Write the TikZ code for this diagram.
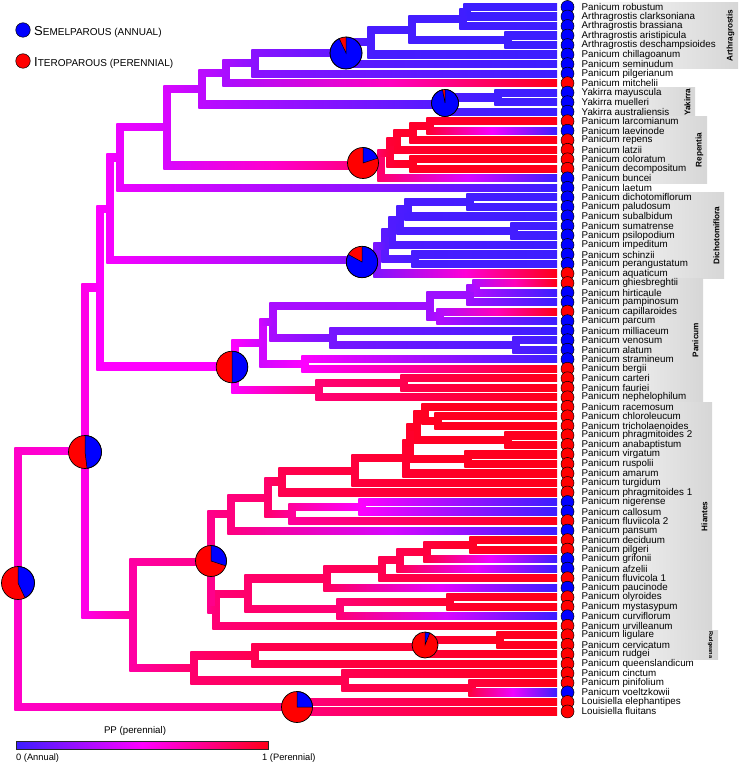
\documentclass[tikz,border=0pt]{standalone}
\usepackage{fontspec}
\setmainfont{Liberation Sans}
\usetikzlibrary{calc}

\definecolor{ppA}{RGB}{60,30,255}
\definecolor{ppM}{RGB}{255,0,255}
\definecolor{ppP}{RGB}{255,0,24}
\definecolor{stA}{RGB}{0,0,255}
\definecolor{stP}{RGB}{255,0,0}

% colour on the PP scale, value 0..100
\newcommand\ppcolor[2]{%
  \edef\ppv{\the\numexpr#2\relax}%
  \ifnum\ppv<50
    \edef\pptmp{\noexpand\colorlet{#1}{ppM!\the\numexpr\ppv*2\relax!ppA}}%
  \else
    \edef\pptmp{\noexpand\colorlet{#1}{ppP!\the\numexpr(\ppv-50)*2\relax!ppM}}%
  \fi
  \pptmp}

% elbow branch from parent to child
\newcommand\treebranch[2]{%
  \ppcolor{cpa}{\csname pv#1\endcsname}%
  \ppcolor{cch}{\csname pv#2\endcsname}%
  \ppcolor{cmi}{(\csname pv#1\endcsname+\csname pv#2\endcsname)/2}%
  \fill[cpa] let \p1=(#1), \p2=(#2) in (\x1-3.6pt,\y1) rectangle (\x1+3.6pt,\y2);
  \shade[left color=cpa, right color=cch, middle color=cmi] let \p1=(#1), \p2=(#2) in
    (\x1-3.6pt,\y2-3.6pt) rectangle (\x2,\y2+3.6pt);}

% inner node at x, halfway between its two children
\newcommand\clade[5]{%
  \path let \p1=($(#4)!.5!(#5)$) in (#2pt,\y1) coordinate (#1);
  \expandafter\xdef\csname pv#1\endcsname{#3}%
  \treebranch{#1}{#4}\treebranch{#1}{#5}}

% pie of the state probabilities (blue share in percent)
\newcommand\ppie[3]{%
  \begin{scope}[shift={(#1)}, x=1pt, y=1pt]
    \fill[stP] (0,0) circle (#2);
    \filldraw[fill=stA, draw=black, line width=0.5pt] (0,0) -- (90:#2)
      arc[start angle=90, delta angle=-3.6*#3, radius=#2] -- cycle;
    \draw[line width=0.7pt] (0,0) circle (#2);
  \end{scope}}

% grey band behind a clade
\newcommand\cladebox[5]{%
  \pgfmathsetmacro\bt{2.24+9.52*(#1-1)}%
  \pgfmathsetmacro\bb{11.76+9.52*(#2-1)}%
  \shade[left color=gray!2, right color=gray!32] (579,\bt) rectangle (#3,\bb);
  \node[cladename, #5] (cl#4) at (#3-7.5,{(\bt+\bb)/2}) {#4};}

\newcommand\taxa{Panicum robustum/0, Arthragrostis clarksoniana/0, Arthragrostis brassiana/0,
 Arthragrostis aristipicula/0, Arthragrostis deschampsioides/0, Panicum chillagoanum/0,
 Panicum seminudum/0, Panicum pilgerianum/0, Panicum mitchelii/100, Yakirra mayuscula/0,
 Yakirra muelleri/0, Yakirra australiensis/0, Panicum larcomianum/100, Panicum laevinode/0,
 Panicum repens/100, Panicum latzii/100, Panicum coloratum/100, Panicum decompositum/100,
 Panicum buncei/0, Panicum laetum/0, Panicum dichotomiflorum/0, Panicum paludosum/0,
 Panicum subalbidum/0, Panicum sumatrense/0, Panicum psilopodium/0, Panicum impeditum/0,
 Panicum schinzii/0, Panicum perangustatum/0, Panicum aquaticum/100, Panicum ghiesbreghtii/100,
 Panicum hirticaule/0, Panicum pampinosum/0, Panicum capillaroides/100, Panicum parcum/0,
 Panicum milliaceum/0, Panicum venosum/0, Panicum alatum/0, Panicum stramineum/0,
 Panicum bergii/100, Panicum carteri/100, Panicum fauriei/100, Panicum nephelophilum/100,
 Panicum racemosum/100, Panicum chloroleucum/100, Panicum tricholaenoides/100,
 Panicum phragmitoides 2/100, Panicum anabaptistum/100, Panicum virgatum/100,
 Panicum ruspolii/100, Panicum amarum/100, Panicum turgidum/100, Panicum phragmitoides 1/100,
 Panicum nigerense/0, Panicum callosum/0, Panicum fluviicola 2/100, Panicum pansum/0,
 Panicum deciduum/100, Panicum pilgeri/100, Panicum grifonii/0, Panicum afzelii/0,
 Panicum fluvicola 1/100, Panicum paucinode/0, Panicum olyroides/100, Panicum mystasypum/100,
 Panicum curviflorum/0, Panicum urvilleanum/100, Panicum ligulare/100, Panicum cervicatum/100,
 Panicum rudgei/100, Panicum queenslandicum/100, Panicum cinctum/100, Panicum pinifolium/100,
 Panicum voeltzkowii/0, Louisiella elephantipes/100, Louisiella fluitans/100}

\begin{document}
\begin{tikzpicture}[x=1pt, y=-1pt,
  every node/.style={font=\fontsize{9.8}{10}\selectfont},
  tipdot/.style={circle, draw=black, line width=0.5pt, minimum size=13pt, inner sep=0pt},
  taxon/.style={anchor=west, inner sep=0pt},
  cladename/.style={font=\bfseries\fontsize{8.2}{9}\selectfont, inner sep=0pt}]
\useasboundingbox (0,0) rectangle (740,767);

% tip ends
\foreach \lab/\st [count=\i] in \taxa {
  \pgfmathsetmacro\ty{7+9.52*(\i-1)}
  \coordinate (e\i) at (557,\ty);
  \expandafter\xdef\csname pve\i\endcsname{\st}
}

% Arthragrostis and Yakirra
\clade{a12}{467}{0}{e1}{e2}
\clade{a13}{463}{1}{a12}{e3}
\clade{a45}{508}{0}{e4}{e5}
\clade{a15}{412}{2}{a13}{a45}
\clade{a16}{371}{3}{a15}{e6}
\clade{a17}{352}{8}{a16}{e7}
\clade{a18}{255}{20}{a17}{e8}
\clade{a19}{226}{28}{a18}{e9}
\clade{y1}{498}{1}{e10}{e11}
\clade{y2}{452}{4}{y1}{e12}
\clade{a112}{202}{33}{a19}{y2}
% Repentia
\clade{r1}{430}{95}{e13}{e14}
\clade{r2}{413}{96}{r1}{e15}
\clade{r3}{397}{95}{r2}{e16}
\clade{r4}{413}{98}{e17}{e18}
\clade{r5}{390}{93}{r3}{r4}
\clade{r6}{381}{82}{r5}{e19}
\clade{nD}{167}{40}{a112}{r6}
\clade{nE}{120}{45}{nD}{e20}
% Dichotomiflora
\clade{d1}{470}{2}{e21}{e22}
\clade{d2}{408}{3}{d1}{e23}
\clade{d3}{514}{2}{e24}{e25}
\clade{d4}{400}{4}{d2}{d3}
\clade{d5}{392}{5}{d4}{e26}
\clade{d6}{415}{3}{e27}{e28}
\clade{d7}{385}{8}{d5}{d6}
\clade{d8}{377}{17}{d7}{e29}
\clade{nA}{110}{48}{nE}{d8}
% Panicum
\clade{q1}{476}{30}{e30}{e31}
\clade{q2}{470}{25}{q1}{e32}
\clade{q3}{440}{30}{e33}{e34}
\clade{q4}{430}{25}{q2}{q3}
\clade{q5}{516}{5}{e36}{e37}
\clade{q6}{333}{15}{e35}{q5}
\clade{q7}{273}{28}{q4}{q6}
\clade{q8}{305}{50}{e38}{e39}
\clade{q9}{263}{38}{q7}{q8}
\clade{q10}{404}{88}{e40}{e41}
\clade{q11}{319}{80}{q10}{e42}
\clade{q12}{235}{50}{q9}{q11}
\clade{nB}{100}{50}{nA}{q12}
% Hiantes
\clade{h1}{438}{98}{e44}{e45}
\clade{h2}{425}{98}{e43}{h1}
\clade{h3}{508}{98}{e46}{e47}
\clade{h4}{417}{97}{h2}{h3}
\clade{h5}{468}{98}{e48}{e49}
\clade{h6}{410}{96}{h4}{h5}
\clade{h7}{406}{95}{h6}{e50}
\clade{h8}{355}{92}{h7}{e51}
\clade{h9}{282}{88}{h8}{e52}
\clade{h10}{362}{50}{e53}{e54}
\clade{h11}{292}{72}{h10}{e55}
\clade{h12}{268}{82}{h9}{h11}
\clade{h13}{231}{78}{h12}{e56}
\clade{h14}{473}{97}{e57}{e58}
\clade{h15}{427}{92}{h14}{e59}
\clade{h16}{400}{88}{h15}{e60}
\clade{h17}{382}{88}{h16}{e61}
\clade{h18}{327}{85}{h17}{e62}
\clade{h19}{450}{95}{e63}{e64}
\clade{h20}{340}{80}{h19}{e65}
\clade{h21}{248}{82}{h18}{h20}
\clade{h22}{216}{80}{h21}{e66}
\clade{h23}{211}{75}{h13}{h22}
% Rudgeana, Louisiella, root
\clade{u1}{500}{98}{e67}{e68}
\clade{u2}{425}{94}{u1}{e69}
\clade{u3}{255}{88}{u2}{e70}
\clade{u4}{472}{92}{e72}{e73}
\clade{u5}{345}{88}{e71}{u4}
\clade{u6}{194}{82}{u3}{u5}
\clade{nC}{133}{70}{h23}{u6}
\clade{nP}{85}{55}{nB}{nC}
\clade{lou}{297}{78}{e74}{e75}
\clade{root}{18}{62}{nP}{lou}

% ancestral state pies
\coordinate (pie1) at (346,53);
\coordinate (pie2) at (445,103);
\coordinate (pie3) at (363,163);
\coordinate (pie4) at (362,262);
\coordinate (pie5) at (232,367);
\coordinate (pie6) at (85,452);
\coordinate (pie7) at (211,561);
\coordinate (pie8) at (18,583);
\coordinate (pie9) at (425,645);
\coordinate (pie10) at (297,707);
\ppie{pie1}{16}{93}
\ppie{pie2}{13.5}{97}
\ppie{pie3}{15.5}{20}
\ppie{pie4}{15.7}{83}
\ppie{pie5}{15.8}{50}
\ppie{pie6}{16.5}{48}
\ppie{pie7}{15.5}{30}
\ppie{pie8}{16.5}{43}
\ppie{pie9}{13}{6}
\ppie{pie10}{15.5}{25}

% clade bands
\cladebox{1}{7}{738}{Arthragrostis}{rotate=90}
\cladebox{10}{12}{695}{Yakirra}{rotate=90}
\cladebox{13}{19}{707}{Repentia}{rotate=90}
\cladebox{21}{29}{724}{Dichotomiflora}{rotate=90}
\cladebox{30}{42}{703}{Panicum}{rotate=90}
\cladebox{43}{66}{712}{Hiantes}{rotate=90}
\cladebox{67}{69}{718}{Rudgeana}{rotate=-90, font=\bfseries\fontsize{5.6}{6}\selectfont}

% tip states and names
\foreach \lab/\st [count=\i] in \taxa {
  \pgfmathsetmacro\ty{7+9.52*(\i-1)}
  \ifnum\st=0 \def\tc{stA}\else\def\tc{stP}\fi
  \node[tipdot, fill=\tc] (t\i) at (567.5,\ty) {};
  \node[taxon] (l\i) at (581.5,\ty) {\lab};
}

% legend
\node[tipdot, fill=stA, minimum size=14.5pt] (legA) at (23,30) {};
\node[taxon] (legAt) at (34,32) {{\fontsize{13}{13}\selectfont S}\fontsize{10}{10}\selectfont EMELPAROUS (ANNUAL)};
\node[tipdot, fill=stP, minimum size=14.5pt] (legP) at (23,61) {};
\node[taxon] (legPt) at (34,63) {{\fontsize{13}{13}\selectfont I}\fontsize{10}{10}\selectfont TEROPAROUS (PERENNIAL)};

% colour scale
\shadedraw[left color=ppA, right color=ppP, middle color=ppM, draw=black!85, line width=0.8pt]
  (16,741) rectangle (268,749);
\node[inner sep=0pt, font=\fontsize{9.7}{10}\selectfont] (pplab) at (135,731) {PP (perennial)};
\node[taxon, font=\fontsize{9.3}{10}\selectfont] (pp0) at (16,758) {0 (Annual)};
\node[taxon, font=\fontsize{9.3}{10}\selectfont] (pp1) at (262,758) {1 (Perennial)};
\end{tikzpicture}
\end{document}
